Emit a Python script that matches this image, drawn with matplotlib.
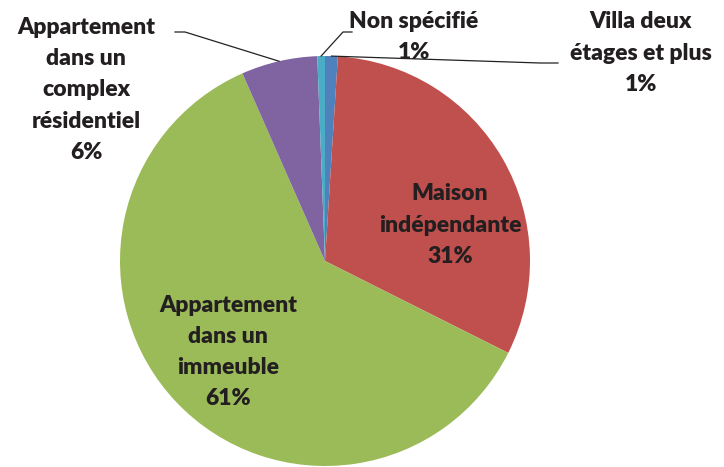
import numpy as np
import matplotlib.pyplot as plt

# données du graphique
categories = ['Villa deux\nétages et plus', 'Maison\nindépendante',
              'Appartement\ndans un\nimmeuble',
              'Appartement\ndans un\ncomplex\nrésidentiel', 'Non spécifié']
valeurs = [1.0, 31.4, 61.0, 6.0, 0.6]
etiquettes_pct = ['1%', '31%', '61%', '6%', '1%']
couleurs = ['#4F81BD', '#C0504D', '#9BBB59', '#8064A2', '#4BACC6']

W, H = 724, 467
fig = plt.figure(figsize=(W / 100, H / 100), dpi=100)
ax = fig.add_axes([0, 0, 1, 1])

cx, cy, r = 325, H - 261, 205
wedges, _ = ax.pie(valeurs, colors=couleurs, startangle=90, counterclock=False,
                   center=(cx, cy), radius=r, wedgeprops=dict(linewidth=0))
ax.set_xlim(0, W)
ax.set_ylim(0, H)
ax.set_aspect('equal')
ax.axis('off')

txt = dict(fontsize=16.5, fontweight='heavy', family=['Lato', 'DejaVu Sans'],
           color='#231f20', ha='center', va='center', linespacing=1.6)


def bord(w):
    a = np.deg2rad((w.theta1 + w.theta2) / 2)
    return cx + r * np.cos(a), cy + r * np.sin(a)


# positions des étiquettes (pixels, y depuis le haut)
pos = [(641, 53), (450, 225), (228, 352), (86, 90), (414, 37)]
for i, (x, y) in enumerate(pos):
    ax.text(x, H - y, categories[i] + '\n' + etiquettes_pct[i], **txt)

# lignes de rappel
x0, y0 = bord(wedges[0])
ax.plot([x0, 540, 558], [y0, H - 63, H - 63], color='#222222', lw=0.9)
x4, y4 = bord(wedges[4])
ax.plot([x4, 343, 352], [y4, H - 32, H - 32], color='#222222', lw=0.9)
x3, y3 = bord(wedges[3])
ax.plot([x3, 185, 175], [y3, H - 32, H - 32], color='#222222', lw=0.9)

fig.savefig('out.png', dpi=100)
